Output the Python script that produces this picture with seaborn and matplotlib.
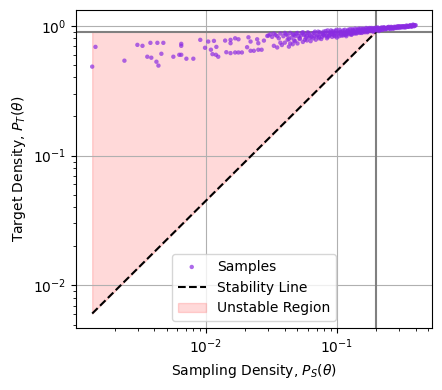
import matplotlib
matplotlib.use("Agg")
import matplotlib.pyplot as plt
import seaborn as sns
import pandas as pd

# scattered samples (low density region)
sparse_x = [0.00135, 0.00143, 0.00238, 0.00299, 0.00327, 0.00376, 0.00425, 0.00472,
            0.00356, 0.00382, 0.00418, 0.00433, 0.00456, 0.00563, 0.00625, 0.00647,
            0.00647, 0.00647, 0.00708, 0.00800, 0.00904, 0.00983, 0.0104, 0.0115,
            0.0109, 0.0120, 0.0112, 0.0119, 0.0124, 0.0140, 0.0154, 0.0154, 0.0167,
            0.0177, 0.0143, 0.0154, 0.0167, 0.0177, 0.0188, 0.0211, 0.0219, 0.0246,
            0.0251, 0.0277, 0.0294, 0.0206, 0.0219, 0.0232, 0.0251, 0.0266]
sparse_y = [0.484, 0.687, 0.538, 0.712, 0.700, 0.738, 0.738, 0.738,
            0.577, 0.567, 0.528, 0.493, 0.608, 0.577, 0.597, 0.597,
            0.725, 0.700, 0.557, 0.557, 0.778, 0.676, 0.755, 0.764,
            0.653, 0.687, 0.604, 0.597, 0.577, 0.768, 0.778, 0.733, 0.800,
            0.786, 0.625, 0.615, 0.622, 0.622, 0.622, 0.814, 0.755, 0.786,
            0.733, 0.768, 0.834, 0.683, 0.641, 0.641, 0.653, 0.653]

# dense band of samples
band_x = [0.031, 0.032, 0.033, 0.034, 0.035, 0.036, 0.037, 0.038, 0.039, 0.040,
          0.041, 0.042, 0.043, 0.044, 0.045, 0.046, 0.047, 0.048, 0.049, 0.050,
          0.051, 0.052, 0.054, 0.055, 0.056, 0.058, 0.059, 0.060, 0.062, 0.063,
          0.065, 0.066, 0.068, 0.069, 0.071, 0.073, 0.074, 0.076, 0.078, 0.080,
          0.082, 0.084, 0.086, 0.088, 0.090, 0.092, 0.094, 0.096, 0.098, 0.100,
          0.103, 0.105, 0.108, 0.110, 0.113, 0.115, 0.118, 0.120, 0.123, 0.126,
          0.129, 0.132, 0.135, 0.138, 0.141, 0.145, 0.148, 0.152, 0.155, 0.159,
          0.163, 0.167, 0.171, 0.175, 0.180, 0.184, 0.189, 0.194, 0.199, 0.204,
          0.210, 0.216, 0.222, 0.228, 0.235, 0.242, 0.249, 0.256, 0.264, 0.272,
          0.280, 0.289, 0.298, 0.307, 0.317, 0.327, 0.338, 0.349, 0.360, 0.372,
          0.384, 0.395, 0.400,
          0.030, 0.033, 0.035, 0.037, 0.040, 0.042, 0.044, 0.046, 0.048, 0.050,
          0.053, 0.055, 0.057, 0.059, 0.061, 0.064, 0.067, 0.070, 0.072, 0.075,
          0.077, 0.079, 0.081, 0.083, 0.085, 0.087, 0.089, 0.091, 0.093, 0.095,
          0.097, 0.099, 0.102, 0.106, 0.109, 0.112, 0.116, 0.119, 0.122, 0.125,
          0.128, 0.131, 0.134, 0.137, 0.140, 0.144, 0.147, 0.150, 0.154, 0.158,
          0.162, 0.166, 0.170, 0.174, 0.178, 0.183, 0.188, 0.193, 0.198, 0.203,
          0.208, 0.214, 0.220, 0.226, 0.232, 0.239, 0.246, 0.253, 0.260, 0.268,
          0.276, 0.285, 0.294, 0.303, 0.312, 0.322, 0.333, 0.344, 0.355, 0.366,
          0.378, 0.390,
          0.104, 0.111, 0.117, 0.124, 0.130, 0.136, 0.143, 0.150, 0.157, 0.164,
          0.172, 0.181, 0.190, 0.200, 0.211, 0.224, 0.237, 0.251, 0.266, 0.282,
          0.299, 0.316, 0.335, 0.353, 0.371, 0.388,
          0.043, 0.047, 0.052, 0.057, 0.062, 0.067, 0.073, 0.079, 0.085, 0.091,
          0.097, 0.107, 0.114, 0.121, 0.127, 0.133, 0.139, 0.146, 0.153, 0.160,
          0.168, 0.176, 0.185, 0.195, 0.206, 0.218, 0.230, 0.244, 0.258, 0.274,
          0.290, 0.307, 0.326, 0.345, 0.364, 0.382]
band_y = [0.86, 0.82, 0.70, 0.85, 0.68, 0.80, 0.87, 0.71, 0.83, 0.74,
          0.86, 0.78, 0.69, 0.88, 0.81, 0.72, 0.85, 0.76, 0.87, 0.73,
          0.83, 0.79, 0.88, 0.75, 0.85, 0.81, 0.77, 0.89, 0.84, 0.76,
          0.87, 0.80, 0.90, 0.78, 0.85, 0.82, 0.89, 0.79, 0.87, 0.84,
          0.91, 0.80, 0.88, 0.85, 0.92, 0.82, 0.89, 0.86, 0.91, 0.81,
          0.88, 0.93, 0.84, 0.90, 0.87, 0.93, 0.83, 0.91, 0.88, 0.94,
          0.85, 0.92, 0.89, 0.95, 0.87, 0.93, 0.90, 0.95, 0.88, 0.93,
          0.91, 0.96, 0.89, 0.94, 0.92, 0.96, 0.90, 0.95, 0.93, 0.97,
          0.91, 0.95, 0.93, 0.97, 0.94, 0.96, 0.98, 0.94, 0.97, 0.95,
          0.98, 0.96, 0.99, 0.97, 0.99, 0.97, 1.00, 0.98, 1.00, 0.99,
          1.01, 1.00, 1.01,
          0.84, 0.87, 0.83, 0.74, 0.88, 0.84, 0.73, 0.86, 0.83, 0.88,
          0.84, 0.89, 0.86, 0.83, 0.87, 0.82, 0.88, 0.83, 0.90, 0.86,
          0.82, 0.90, 0.87, 0.84, 0.92, 0.83, 0.89, 0.86, 0.91, 0.84,
          0.88, 0.93, 0.86, 0.90, 0.86, 0.92, 0.89, 0.86, 0.93, 0.90,
          0.87, 0.94, 0.91, 0.88, 0.93, 0.91, 0.95, 0.89, 0.92, 0.95,
          0.90, 0.93, 0.95, 0.91, 0.96, 0.93, 0.95, 0.92, 0.96, 0.94,
          0.96, 0.93, 0.97, 0.95, 0.96, 0.95, 0.97, 0.96, 0.98, 0.96,
          0.97, 0.97, 0.98, 0.98, 0.98, 0.99, 0.98, 0.99, 0.99, 1.00,
          1.00, 1.01,
          0.83, 0.84, 0.85, 0.86, 0.86, 0.87, 0.88, 0.88, 0.89, 0.89,
          0.90, 0.91, 0.91, 0.92, 0.93, 0.93, 0.94, 0.95, 0.95, 0.96,
          0.96, 0.97, 0.97, 0.98, 0.98, 0.99,
          0.79, 0.77, 0.80, 0.78, 0.81, 0.83, 0.80, 0.85, 0.82, 0.87,
          0.83, 0.89, 0.85, 0.90, 0.88, 0.92, 0.89, 0.93, 0.91, 0.94,
          0.92, 0.95, 0.94, 0.96, 0.95, 0.96, 0.97, 0.97, 0.97, 0.98,
          0.99, 0.99, 0.99, 1.00, 1.01, 1.02]

# stability line end points and thresholds
line_x = [0.00135, 0.2]
line_y = [0.006075, 0.9]
target_thresh = 0.9
sampling_thresh = 0.2

df = pd.DataFrame({"ps": sparse_x + band_x, "pt": sparse_y + band_y})

fig, ax = plt.subplots(figsize=(4.42, 3.9), dpi=100)
fig.subplots_adjust(left=0.172, right=0.977, top=0.974, bottom=0.159)

sns.scatterplot(data=df, x="ps", y="pt", ax=ax, color="blueviolet", s=10,
                alpha=0.7, edgecolor="none", label="Samples", zorder=3)
ax.plot(line_x, line_y, "k--", lw=1.5, label="Stability Line", zorder=2.5)
ax.fill_between(line_x, line_y, target_thresh, color="red", alpha=0.15,
                label="Unstable Region")
ax.axhline(target_thresh, color="gray", lw=1.5)
ax.axvline(sampling_thresh, color="gray", lw=1.5)

ax.set_xscale("log")
ax.set_yscale("log")
ax.grid(True)
ax.set_xlabel(r"Sampling Density, $P_S(\theta)$")
ax.set_ylabel(r"Target Density, $P_T(\theta)$")
ax.legend(loc="lower center")

fig.savefig("out.png", dpi=100)
